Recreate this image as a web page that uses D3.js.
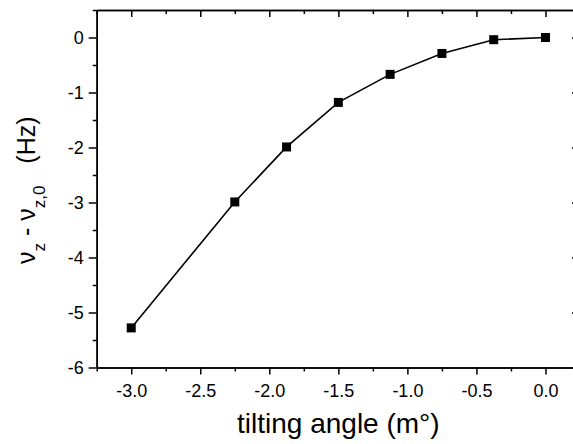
<!DOCTYPE html>
<html>
<head>
<meta charset="utf-8">
<script src="https://cdn.jsdelivr.net/npm/d3@7"></script>
<style>
  body { margin: 0; background: #fff; }
  svg { display: block; font-family: "Liberation Sans", Arial, sans-serif; }
</style>
</head>
<body>
<script>
// tilting angle (m°) vs frequency shift (Hz)
const angles = [-3.0, -2.25, -1.875, -1.5, -1.125, -0.75, -0.375, 0.0];
const shifts = [-5.28, -2.99, -1.99, -1.18, -0.67, -0.29, -0.04, 0.0];
const xTicks = [-3.0, -2.5, -2.0, -1.5, -1.0, -0.5, 0.0];
const yTicks = [0, -1, -2, -3, -4, -5, -6];

const width = 573, height = 444;
const plotL = 96.7, plotR = 580, plotT = 10, plotB = 367.5;

const svg = d3.select('body').append('svg').attr('width', width).attr('height', height);

const x = d3.scaleLinear().domain([-3.25, 0.25]).range([plotL, plotR]);
const y = d3.scaleLinear().domain([-6, 0.5]).range([plotB, plotT]);

const xMinor = d3.range(-3.25, 0.26, 0.25).filter(v => !xTicks.some(t => Math.abs(t - v) < 1e-6));
const yMinor = d3.range(-5.5, 0.51, 1);

// plain hyphen instead of d3's unicode minus
const fmtX = d => d.toFixed(1);
const fmtY = d => String(d);

function styleAxis(g) {
  g.selectAll('path, line').attr('stroke', '#000').attr('stroke-width', 1.5);
  g.select('.domain').attr('stroke-width', 1.6);
}

// bottom
svg.append('g').attr('transform', `translate(0,${plotB})`)
  .call(d3.axisBottom(x).tickValues(xTicks).tickSize(7).tickSizeOuter(0).tickPadding(10).tickFormat(fmtX))
  .call(styleAxis)
  .call(g => g.selectAll('text').attr('font-size', 18).attr('fill', '#000').attr('font-family', 'Liberation Sans'));
svg.append('g').attr('transform', `translate(0,${plotB})`)
  .call(d3.axisBottom(x).tickValues(xMinor).tickSize(4).tickSizeOuter(0).tickFormat(''))
  .call(styleAxis);

// top
svg.append('g').attr('transform', `translate(0,${plotT})`)
  .call(d3.axisTop(x).tickValues(xTicks).tickSize(-7).tickSizeOuter(0).tickFormat(''))
  .call(styleAxis);
svg.append('g').attr('transform', `translate(0,${plotT})`)
  .call(d3.axisTop(x).tickValues(xMinor).tickSize(-4).tickSizeOuter(0).tickFormat(''))
  .call(styleAxis);

// left
svg.append('g').attr('transform', `translate(${plotL},0)`)
  .call(d3.axisLeft(y).tickValues(yTicks).tickSize(8).tickSizeOuter(0).tickPadding(5).tickFormat(fmtY))
  .call(styleAxis)
  .call(g => g.selectAll('text').attr('font-size', 18).attr('fill', '#000').attr('font-family', 'Liberation Sans'));
svg.append('g').attr('transform', `translate(${plotL},0)`)
  .call(d3.axisLeft(y).tickValues(yMinor).tickSize(4).tickSizeOuter(0).tickFormat(''))
  .call(styleAxis);

// right (spine falls outside the picture)
svg.append('g').attr('transform', `translate(${plotR},0)`)
  .call(d3.axisRight(y).tickValues(yTicks).tickSize(-8).tickSizeOuter(0).tickFormat(''))
  .call(styleAxis);
svg.append('g').attr('transform', `translate(${plotR},0)`)
  .call(d3.axisRight(y).tickValues(yMinor).tickSize(-4).tickSizeOuter(0).tickFormat(''))
  .call(styleAxis);

const pts = angles.map((a, i) => [a, shifts[i]]);

svg.append('path').datum(pts)
  .attr('fill', 'none').attr('stroke', '#000').attr('stroke-width', 1.6)
  .attr('d', d3.line().x(d => x(d[0])).y(d => y(d[1])));

svg.selectAll('rect.pt').data(pts).enter().append('rect')
  .attr('class', 'pt')
  .attr('x', d => x(d[0]) - 4.5).attr('y', d => y(d[1]) - 4.5)
  .attr('width', 9).attr('height', 9).attr('fill', '#000');

// axis titles
svg.append('text')
  .attr('x', (plotL + plotR) / 2).attr('y', 433)
  .attr('text-anchor', 'middle').attr('font-size', 28)
  .text('tilting angle (m°)');

const yt = svg.append('text')
  .attr('transform', 'translate(35,264) rotate(-90)')
  .attr('text-anchor', 'start').attr('font-size', 25);
yt.append('tspan').text('ν');
yt.append('tspan').attr('font-size', 17).attr('dy', 10).text('z');
yt.append('tspan').attr('dy', -10).text(' - ν');
yt.append('tspan').attr('font-size', 17).attr('dy', 10).text('z,0');
yt.append('tspan').attr('dy', -10).attr('dx', 15).text(' (Hz)');
</script>
</body>
</html>
